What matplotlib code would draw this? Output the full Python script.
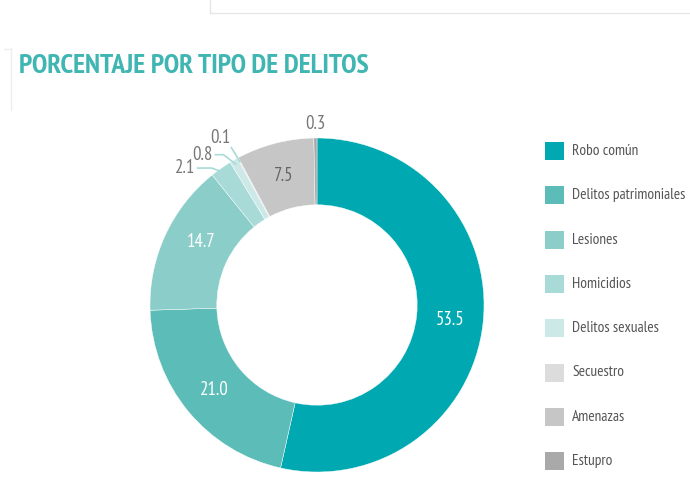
"""
Donut chart: porcentaje por tipo de delitos
"""
import numpy as np
import matplotlib.pyplot as plt
from matplotlib.patches import Rectangle

# Data
categorias = ['Robo común', 'Delitos patrimoniales', 'Lesiones', 'Homicidios',
              'Delitos sexuales', 'Secuestro', 'Amenazas', 'Estupro']
porcentajes = [53.5, 21.0, 14.7, 2.1, 0.8, 0.1, 7.5, 0.3]
colores = ['#00A9B1', '#5CBDB8', '#8BCDC9', '#A8DAD7',
           '#CCE9E8', '#DCDCDC', '#C6C6C6', '#A9A9A9']

plt.rcParams['font.family'] = ['PT Sans Narrow', 'DejaVu Sans']

W, H = 690, 493
fig = plt.figure(figsize=(W / 100, H / 100), dpi=100)

# background decorations (figure pixel coordinates)
bg = fig.add_axes([0, 0, 1, 1])
bg.set_xlim(0, W)
bg.set_ylim(H, 0)
bg.axis('off')
bg.plot([210, 690], [13, 13], color='#e6e6e6', lw=1)
bg.plot([210, 210], [0, 13], color='#e6e6e6', lw=1)
bg.plot([11, 11], [48, 110], color='#eeeeee', lw=1)
bg.plot([4, 11], [49, 49], color='#eeeeee', lw=1)

bg.text(19, 73, 'PORCENTAJE POR TIPO DE DELITOS', fontsize=20, fontweight='bold',
        color='#3FB6B1', ha='left', va='baseline')

# legend
y0, dy = 151, 44.3
for i, (cat, col) in enumerate(zip(categorias, colores)):
    y = y0 + i * dy
    bg.add_patch(Rectangle((545, y - 9), 19, 18, color=col, lw=0))
    bg.text(572, y, cat, fontsize=11.1, color='#555555', va='center', ha='left')

# donut
cx, cy, R = 317, 305, 167
ax = fig.add_axes([(cx - R) / W, (H - cy - R) / H, 2 * R / W, 2 * R / H])
wedges, _ = ax.pie(porcentajes, colors=colores, startangle=90, counterclock=False,
                   radius=1, wedgeprops=dict(width=0.4, edgecolor='white', linewidth=0.3))
ax.set_xlim(-1, 1)
ax.set_ylim(-1, 1)
ax.set_aspect('equal')
ax.axis('off')

cum = np.cumsum([0] + porcentajes)
mids = 90 - (cum[:-1] + np.array(porcentajes) / 2) * 3.6


def punto(ang, r):
    a = np.deg2rad(ang)
    return r * np.cos(a), r * np.sin(a)


# labels inside big slices: index -> (radius, angle shift, colour)
interior = {0: (0.80, 0, 'white'), 1: (0.80, 0, 'white'),
            2: (0.79, -4, 'white'), 6: (0.80, 0, '#666666')}
for i, (r, da, c) in interior.items():
    x, y = punto(mids[i] + da, r)
    ax.text(x, y, f'{porcentajes[i]:.1f}', ha='center', va='center',
            fontsize=13.5, color=c)

# Estupro label on top
x, y = punto(mids[7], 1.0)
ax.text(x, y + 0.03, f'{porcentajes[7]:.1f}', ha='center', va='bottom',
        fontsize=13.5, color='#777777')

# small slices with leader lines: (index, text right edge, elbow)
pequenos = [(3, (-0.73, 0.82), (-0.63, 0.82)),
            (4, (-0.623, 0.90), (-0.56, 0.90)),
            (5, (-0.52, 1.0), (-0.515, 0.946))]
for i, (tx, ty), (ex, ey) in pequenos:
    px, py = punto(mids[i], 0.97)
    sx = tx + 0.01 if i != 5 else ex
    sy = ty if i != 5 else ey
    ax.plot([sx, ex, px], [sy, ey, py], color='#A8DAD7', lw=1.2,
            solid_capstyle='butt', clip_on=False)
    ax.text(tx, ty, f'{porcentajes[i]:.1f}', ha='right', va='center',
            fontsize=13.5, color='#777777')

plt.savefig('out.png', dpi=100)
